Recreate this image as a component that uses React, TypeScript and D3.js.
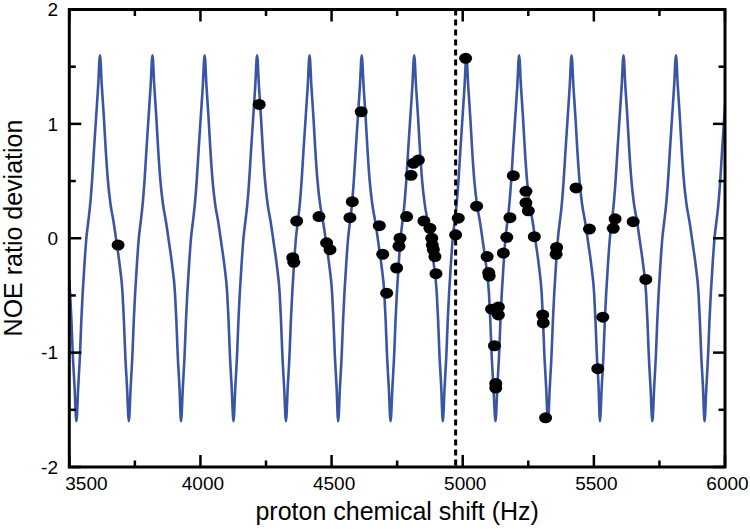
import React from 'react';
import * as d3 from 'd3';

// axis ticks
const xTicks = [3500, 4000, 4500, 5000, 5500, 6000];
const xMinorTicks = [3750, 4250, 4750, 5250, 5750];
const yTicks = [-2, -1, 0, 1, 2];
const yMinorTicks = [-1.5, -0.5, 0.5, 1.5];

// trough positions (Hz) of the periodic model curve
const troughs = [3327, 3527, 3727, 3926, 4126, 4326, 4525, 4725, 4924, 5125, 5325, 5523, 5723, 5922, 6122];
// one cycle of the model curve: [Hz offset from trough, value]
const cycleOffsets = [0, 7, 14, 19, 24, 31, 38, 45, 52, 60, 67, 75, 83, 90, 97, 105, 112, 120, 130, 142, 154, 166, 176, 181, 186, 193];
const cycleValues = [-1.6, -1.3, -1.0, -0.71, -0.48, -0.22, 0.0, 0.14, 0.28, 0.51, 0.77, 1.05, 1.33, 1.6, 1.33, 1.05, 0.77, 0.51, 0.3, 0.14, -0.05, -0.25, -0.48, -0.71, -1.0, -1.3];

// measured points
const obsHz = [3686, 4224, 4613, 5011, 4367, 4352, 4356, 4452, 4481, 4494, 4579, 4570, 4682, 4695, 4710, 4748, 4761, 4757, 4786, 4803, 4812, 4831, 4852, 4875, 4882, 4884, 4888, 4894, 4898, 4983, 4973, 5053, 5093, 5099, 5101, 5110, 5136, 5136, 5121, 5126, 5126, 5155, 5168, 5180, 5193, 5241, 5241, 5250, 5273, 5358, 5356, 5305, 5307, 5316, 5432, 5483, 5581, 5574, 5650, 5698, 5534, 5515];
const obsVal = [-0.06, 1.17, 1.106, 1.573, 0.15, -0.17, -0.21, 0.19, -0.04, -0.1, 0.32, 0.18, 0.11, -0.14, -0.48, -0.26, 0.0, -0.07, 0.19, 0.55, 0.655, 0.684, 0.15, 0.087, 0.0, -0.06, -0.1, -0.16, -0.31, 0.175, 0.03, 0.28, -0.16, -0.3, -0.33, -0.62, -0.6, -0.67, -0.94, -1.27, -1.31, -0.13, 0.008, 0.18, 0.547, 0.41, 0.31, 0.24, 0.014, -0.08, -0.14, -0.67, -0.74, -1.57, 0.44, 0.08, 0.17, 0.087, 0.145, -0.36, -0.69, -1.14];

const refLineHz = 4973;

const W = 750;
const H = 529;
const left = 69.3;
const right = 725;
const top = 9.5;
const bottom = 467;

const FONT = '"Liberation Sans", Arial, Helvetica, sans-serif';
const BLUE = '#3b55a5';

export default function App() {
  const x = d3.scaleLinear().domain([3500, 6000]).range([left, right]);
  const y = d3.scaleLinear().domain([-2, 2]).range([bottom, top]);

  const curvePts: [number, number][] = [];
  troughs.forEach((t) => {
    cycleOffsets.forEach((o, i) => curvePts.push([t + o, cycleValues[i]]));
  });
  curvePts.sort((a, b) => a[0] - b[0]);
  const line = d3
    .line<[number, number]>()
    .x((d) => x(d[0]))
    .y((d) => y(d[1]))
    .curve(d3.curveMonotoneX);

  const major = 12;
  const minor = 6.5;

  return (
    <svg width={W} height={H} style={{ position: 'absolute', left: 0, top: 0, background: '#fff' }}>
      <defs>
        <clipPath id="plot">
          <rect x={left} y={top} width={right - left} height={bottom - top} />
        </clipPath>
      </defs>
      <rect x={0} y={0} width={W} height={H} fill="#fff" />
      <g clipPath="url(#plot)">
        <path d={line(curvePts) || ''} fill="none" stroke={BLUE} strokeWidth={2.6} strokeLinejoin="round" />
        <line x1={x(refLineHz)} x2={x(refLineHz)} y1={top} y2={bottom} stroke="#000" strokeWidth={3} strokeDasharray="6,4" />
        {obsHz.map((h, i) => (
          <ellipse key={i} cx={x(h)} cy={y(obsVal[i])} rx={6.5} ry={5.5} fill="#000" />
        ))}
      </g>
      {/* ticks */}
      <g stroke="#000" strokeWidth={2.5}>
        {xTicks.map((t) => (
          <g key={'xt' + t}>
            <line x1={x(t)} x2={x(t)} y1={bottom} y2={bottom - major} />
            <line x1={x(t)} x2={x(t)} y1={top} y2={top + major} />
          </g>
        ))}
        {xMinorTicks.map((t) => (
          <g key={'xm' + t}>
            <line x1={x(t)} x2={x(t)} y1={bottom} y2={bottom - minor} />
            <line x1={x(t)} x2={x(t)} y1={top} y2={top + minor} />
          </g>
        ))}
        {yTicks.map((t) => (
          <g key={'yt' + t}>
            <line x1={left} x2={left + major} y1={y(t)} y2={y(t)} />
            <line x1={right} x2={right - major} y1={y(t)} y2={y(t)} />
          </g>
        ))}
        {yMinorTicks.map((t) => (
          <g key={'ym' + t}>
            <line x1={left} x2={left + minor} y1={y(t)} y2={y(t)} />
            <line x1={right} x2={right - minor} y1={y(t)} y2={y(t)} />
          </g>
        ))}
      </g>
      <rect x={left} y={top} width={right - left} height={bottom - top} fill="none" stroke="#000" strokeWidth={3} />
      {/* tick labels */}
      <g fontFamily={FONT} fontSize={19} fill="#000">
        {xTicks.map((t, i) => (
          <text key={'xl' + t} x={i === 0 ? x(t) - 4 : x(t) + 2.5} y={490} textAnchor={i === 0 ? 'start' : 'middle'}>
            {String(t)}
          </text>
        ))}
        {yTicks.map((t) => (
          <text key={'yl' + t} x={58} y={y(t)} dy="0.36em" textAnchor="end">
            {t < 0 ? '-' + Math.abs(t) : String(t)}
          </text>
        ))}
      </g>
      <text x={(left + right) / 2} y={520} textAnchor="middle" fontFamily={FONT} fontSize={25} fill="#000">
        proton chemical shift (Hz)
      </text>
      <text transform={`translate(22,228) rotate(-90)`} textAnchor="middle" fontFamily={FONT} fontSize={25} fill="#000">
        NOE ratio deviation
      </text>
    </svg>
  );
}
